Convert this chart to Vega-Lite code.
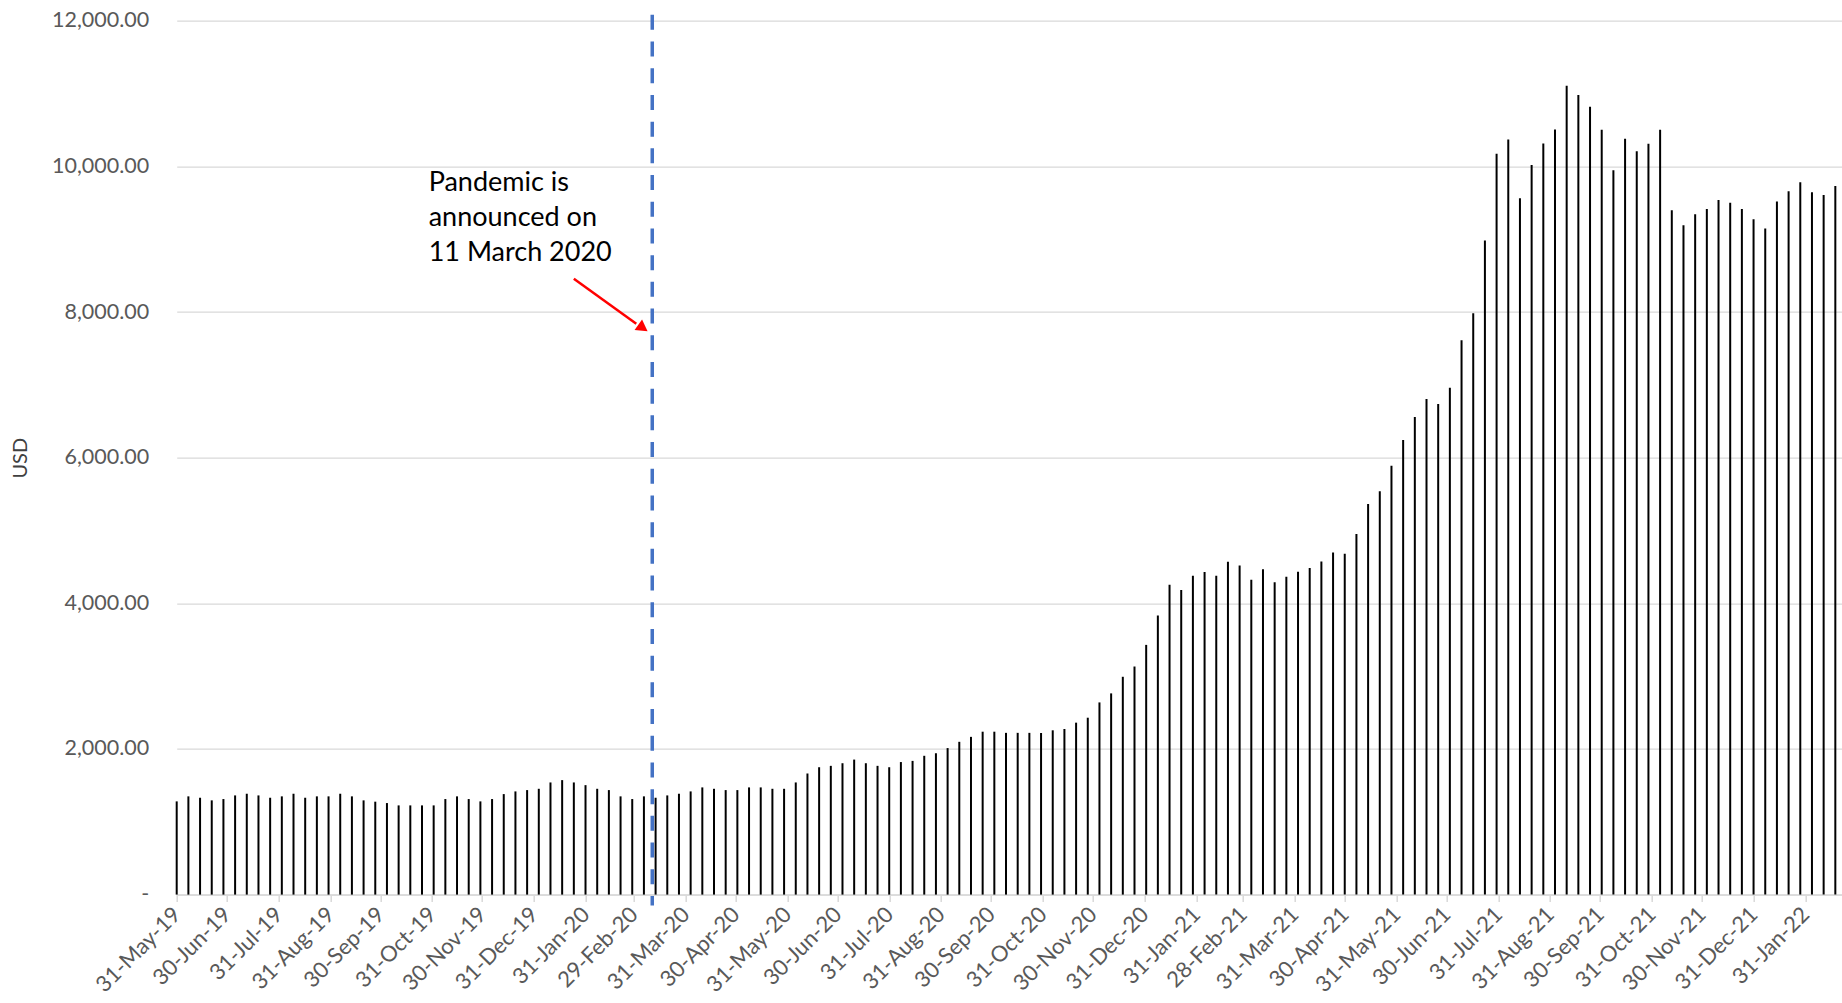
{
  "$schema": "https://vega.github.io/schema/vega-lite/v6.json",
  "autosize": {"type": "none"},
  "padding": {"left": 176.7, "top": 20.7, "right": 0, "bottom": 108.4},
  "width": 1665.3,
  "height": 873.9,
  "background": "white",
  "config": {
    "view": {"stroke": null},
    "font": "Lato",
    "lineBreak": "\n"
  },
  "datasets": {
    "weekly": [
      {"date": "2019-05-31", "usd": 1280}, {"date": "2019-06-07", "usd": 1349}, {"date": "2019-06-14", "usd": 1330}, {"date": "2019-06-21", "usd": 1294},
      {"date": "2019-06-28", "usd": 1312}, {"date": "2019-07-05", "usd": 1362}, {"date": "2019-07-12", "usd": 1385}, {"date": "2019-07-19", "usd": 1362},
      {"date": "2019-07-26", "usd": 1330}, {"date": "2019-08-02", "usd": 1349}, {"date": "2019-08-09", "usd": 1385}, {"date": "2019-08-16", "usd": 1330},
      {"date": "2019-08-23", "usd": 1349}, {"date": "2019-08-30", "usd": 1349}, {"date": "2019-09-06", "usd": 1385}, {"date": "2019-09-13", "usd": 1349},
      {"date": "2019-09-20", "usd": 1294}, {"date": "2019-09-27", "usd": 1276}, {"date": "2019-10-04", "usd": 1257}, {"date": "2019-10-11", "usd": 1225},
      {"date": "2019-10-18", "usd": 1225}, {"date": "2019-10-25", "usd": 1225}, {"date": "2019-11-01", "usd": 1225}, {"date": "2019-11-08", "usd": 1312},
      {"date": "2019-11-15", "usd": 1349}, {"date": "2019-11-22", "usd": 1312}, {"date": "2019-11-29", "usd": 1280}, {"date": "2019-12-06", "usd": 1312},
      {"date": "2019-12-13", "usd": 1380}, {"date": "2019-12-20", "usd": 1417}, {"date": "2019-12-27", "usd": 1435}, {"date": "2020-01-03", "usd": 1453},
      {"date": "2020-01-10", "usd": 1540}, {"date": "2020-01-17", "usd": 1572}, {"date": "2020-01-24", "usd": 1540}, {"date": "2020-01-31", "usd": 1503},
      {"date": "2020-02-07", "usd": 1453}, {"date": "2020-02-14", "usd": 1435}, {"date": "2020-02-21", "usd": 1349}, {"date": "2020-02-28", "usd": 1312},
      {"date": "2020-03-06", "usd": 1349}, {"date": "2020-03-13", "usd": 1330}, {"date": "2020-03-20", "usd": 1362}, {"date": "2020-03-27", "usd": 1385},
      {"date": "2020-04-03", "usd": 1417}, {"date": "2020-04-10", "usd": 1472}, {"date": "2020-04-17", "usd": 1453}, {"date": "2020-04-24", "usd": 1435},
      {"date": "2020-05-01", "usd": 1435}, {"date": "2020-05-08", "usd": 1472}, {"date": "2020-05-15", "usd": 1472}, {"date": "2020-05-22", "usd": 1453},
      {"date": "2020-05-29", "usd": 1453}, {"date": "2020-06-05", "usd": 1540}, {"date": "2020-06-12", "usd": 1663}, {"date": "2020-06-19", "usd": 1749},
      {"date": "2020-06-26", "usd": 1768}, {"date": "2020-07-03", "usd": 1804}, {"date": "2020-07-10", "usd": 1854}, {"date": "2020-07-17", "usd": 1804},
      {"date": "2020-07-24", "usd": 1768}, {"date": "2020-07-31", "usd": 1749}, {"date": "2020-08-07", "usd": 1820}, {"date": "2020-08-14", "usd": 1836},
      {"date": "2020-08-21", "usd": 1906}, {"date": "2020-08-28", "usd": 1941}, {"date": "2020-09-04", "usd": 2012}, {"date": "2020-09-11", "usd": 2098},
      {"date": "2020-09-18", "usd": 2166}, {"date": "2020-09-25", "usd": 2237}, {"date": "2020-10-02", "usd": 2237}, {"date": "2020-10-09", "usd": 2221},
      {"date": "2020-10-16", "usd": 2221}, {"date": "2020-10-23", "usd": 2221}, {"date": "2020-10-30", "usd": 2219}, {"date": "2020-11-06", "usd": 2256},
      {"date": "2020-11-13", "usd": 2274}, {"date": "2020-11-20", "usd": 2361}, {"date": "2020-11-27", "usd": 2429}, {"date": "2020-12-04", "usd": 2639},
      {"date": "2020-12-11", "usd": 2763}, {"date": "2020-12-18", "usd": 2991}, {"date": "2020-12-25", "usd": 3132}, {"date": "2021-01-01", "usd": 3429},
      {"date": "2021-01-08", "usd": 3831}, {"date": "2021-01-15", "usd": 4256}, {"date": "2021-01-22", "usd": 4183}, {"date": "2021-01-29", "usd": 4379},
      {"date": "2021-02-05", "usd": 4429}, {"date": "2021-02-12", "usd": 4379}, {"date": "2021-02-19", "usd": 4571}, {"date": "2021-02-26", "usd": 4520},
      {"date": "2021-03-05", "usd": 4324}, {"date": "2021-03-12", "usd": 4466}, {"date": "2021-03-19", "usd": 4288}, {"date": "2021-03-26", "usd": 4363},
      {"date": "2021-04-02", "usd": 4434}, {"date": "2021-04-09", "usd": 4484}, {"date": "2021-04-16", "usd": 4575}, {"date": "2021-04-23", "usd": 4699},
      {"date": "2021-04-30", "usd": 4680}, {"date": "2021-05-07", "usd": 4950}, {"date": "2021-05-14", "usd": 5365}, {"date": "2021-05-21", "usd": 5539},
      {"date": "2021-05-28", "usd": 5890}, {"date": "2021-06-04", "usd": 6242}, {"date": "2021-06-11", "usd": 6557}, {"date": "2021-06-18", "usd": 6804},
      {"date": "2021-06-25", "usd": 6735}, {"date": "2021-07-02", "usd": 6960}, {"date": "2021-07-09", "usd": 7612}, {"date": "2021-07-16", "usd": 7982},
      {"date": "2021-07-23", "usd": 8982}, {"date": "2021-07-30", "usd": 10173}, {"date": "2021-08-06", "usd": 10370}, {"date": "2021-08-13", "usd": 9562},
      {"date": "2021-08-20", "usd": 10018}, {"date": "2021-08-27", "usd": 10313}, {"date": "2021-09-03", "usd": 10505}, {"date": "2021-09-10", "usd": 11106},
      {"date": "2021-09-17", "usd": 10980}, {"date": "2021-09-24", "usd": 10820}, {"date": "2021-10-01", "usd": 10504}, {"date": "2021-10-08", "usd": 9945},
      {"date": "2021-10-15", "usd": 10380}, {"date": "2021-10-22", "usd": 10206}, {"date": "2021-10-29", "usd": 10311}, {"date": "2021-11-05", "usd": 10504},
      {"date": "2021-11-12", "usd": 9396}, {"date": "2021-11-19", "usd": 9190}, {"date": "2021-11-26", "usd": 9341}, {"date": "2021-12-03", "usd": 9414},
      {"date": "2021-12-10", "usd": 9538}, {"date": "2021-12-17", "usd": 9501}, {"date": "2021-12-24", "usd": 9414}, {"date": "2021-12-31", "usd": 9272},
      {"date": "2022-01-07", "usd": 9148}, {"date": "2022-01-14", "usd": 9519}, {"date": "2022-01-21", "usd": 9657}, {"date": "2022-01-28", "usd": 9780},
      {"date": "2022-02-04", "usd": 9643}, {"date": "2022-02-11", "usd": 9606}, {"date": "2022-02-18", "usd": 9730}
    ],
    "event": [{"date": "2020-03-11", "top": 12080, "bottom": -150}],
    "note": [{"date": "2019-10-29", "usd": 9658, "label": "Pandemic is\nannounced on\n11 March 2020"}],
    "arrow": [{"date": "2020-01-24", "usd": 8456, "date2": "2020-03-01T10:00:00Z", "usd2": 7838}],
    "arrowhead": [{"date": "2020-03-05T10:00:00Z", "usd": 7780}]
  },
  "layer": [
    {
      "data": {"name": "weekly"},
      "mark": {"type": "rule", "color": "#000000", "strokeWidth": 2},
      "encoding": {
        "x": {
          "field": "date",
          "type": "temporal",
          "scale": {
            "type": "utc",
            "domain": [
              {"year": 2019, "month": 5, "date": 31, "utc": true},
              {"year": 2022, "month": 2, "date": 22, "utc": true}
            ]
          },
          "axis": {
            "title": null,
            "format": "%d-%b-%y",
            "values": [
              {"year": 2019, "month": 5, "date": 31, "utc": true},
              {"year": 2019, "month": 6, "date": 30, "utc": true},
              {"year": 2019, "month": 7, "date": 31, "utc": true},
              {"year": 2019, "month": 8, "date": 31, "utc": true},
              {"year": 2019, "month": 9, "date": 30, "utc": true},
              {"year": 2019, "month": 10, "date": 31, "utc": true},
              {"year": 2019, "month": 11, "date": 30, "utc": true},
              {"year": 2019, "month": 12, "date": 31, "utc": true},
              {"year": 2020, "month": 1, "date": 31, "utc": true},
              {"year": 2020, "month": 2, "date": 29, "utc": true},
              {"year": 2020, "month": 3, "date": 31, "utc": true},
              {"year": 2020, "month": 4, "date": 30, "utc": true},
              {"year": 2020, "month": 5, "date": 31, "utc": true},
              {"year": 2020, "month": 6, "date": 30, "utc": true},
              {"year": 2020, "month": 7, "date": 31, "utc": true},
              {"year": 2020, "month": 8, "date": 31, "utc": true},
              {"year": 2020, "month": 9, "date": 30, "utc": true},
              {"year": 2020, "month": 10, "date": 31, "utc": true},
              {"year": 2020, "month": 11, "date": 30, "utc": true},
              {"year": 2020, "month": 12, "date": 31, "utc": true},
              {"year": 2021, "month": 1, "date": 31, "utc": true},
              {"year": 2021, "month": 2, "date": 28, "utc": true},
              {"year": 2021, "month": 3, "date": 31, "utc": true},
              {"year": 2021, "month": 4, "date": 30, "utc": true},
              {"year": 2021, "month": 5, "date": 31, "utc": true},
              {"year": 2021, "month": 6, "date": 30, "utc": true},
              {"year": 2021, "month": 7, "date": 31, "utc": true},
              {"year": 2021, "month": 8, "date": 31, "utc": true},
              {"year": 2021, "month": 9, "date": 30, "utc": true},
              {"year": 2021, "month": 10, "date": 31, "utc": true},
              {"year": 2021, "month": 11, "date": 30, "utc": true},
              {"year": 2021, "month": 12, "date": 31, "utc": true},
              {"year": 2022, "month": 1, "date": 31, "utc": true}
            ],
            "labelAngle": -45,
            "labelAlign": "right",
            "labelBaseline": "middle",
            "labelFontSize": 22,
            "labelColor": "#595959",
            "labelPadding": 9,
            "labelOverlap": false,
            "labelBound": false,
            "labelFlush": false,
            "grid": false,
            "domainColor": "#d9d9d9",
            "domainWidth": 1.5,
            "tickColor": "#d9d9d9",
            "tickWidth": 1.5,
            "tickSize": 7
          }
        },
        "y": {
          "field": "usd",
          "type": "quantitative",
          "scale": {"domain": [0, 12000], "nice": false, "zero": true},
          "axis": {
            "title": "USD",
            "titleFontSize": 20,
            "titleFontWeight": "normal",
            "titleColor": "#404040",
            "titleX": -156,
            "titleY": 437,
            "titleAngle": -90,
            "titleAlign": "center",
            "titleBaseline": "middle",
            "values": [0, 2000, 4000, 6000, 8000, 10000, 12000],
            "labelExpr": "datum.value === 0 ? '-\u2002' : format(datum.value, ',.2f')",
            "labelFontSize": 21.5,
            "labelColor": "#595959",
            "labelPadding": 28,
            "ticks": false,
            "domain": false,
            "gridColor": "#d9d9d9",
            "gridWidth": 1.3
          }
        },
        "y2": {"datum": 0}
      }
    },
    {
      "data": {"name": "event"},
      "mark": {"type": "rule", "color": "#4472C4", "strokeWidth": 3.5, "strokeDash": [15, 11.7]},
      "encoding": {
        "x": {"field": "date", "type": "temporal"},
        "y": {"field": "top", "type": "quantitative"},
        "y2": {"field": "bottom"}
      }
    },
    {
      "data": {"name": "arrow"},
      "mark": {"type": "rule", "color": "#FF0000", "strokeWidth": 2.5},
      "encoding": {
        "x": {"field": "date", "type": "temporal"},
        "x2": {"field": "date2"},
        "y": {"field": "usd", "type": "quantitative"},
        "y2": {"field": "usd2"}
      }
    },
    {
      "data": {"name": "arrowhead"},
      "mark": {"type": "point", "shape": "triangle-up", "filled": true, "color": "#FF0000", "size": 170, "angle": 125, "opacity": 1},
      "encoding": {
        "x": {"field": "date", "type": "temporal"},
        "y": {"field": "usd", "type": "quantitative"}
      }
    },
    {
      "data": {"name": "note"},
      "mark": {"type": "text", "align": "left", "baseline": "alphabetic", "fontSize": 27, "lineHeight": 35, "color": "#000000", "font": "Lato"},
      "encoding": {
        "x": {"field": "date", "type": "temporal"},
        "y": {"field": "usd", "type": "quantitative"},
        "text": {"field": "label"}
      }
    }
  ]
}
